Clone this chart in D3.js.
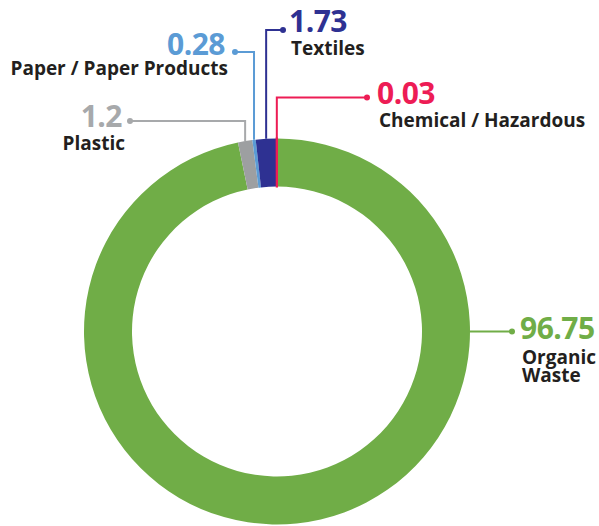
<!DOCTYPE html>
<html>
<head>
<meta charset="utf-8">
<script src="https://cdn.jsdelivr.net/npm/d3@7"></script>
<style>
  html, body { margin: 0; padding: 0; background: #fff; }
  svg { display: block; font-family: "Open Sans", "Noto Sans", sans-serif; }
</style>
</head>
<body>
<svg id="chart" width="599" height="526"></svg>
<script>
// Waste composition (%)
const categories = ["Organic Waste", "Plastic", "Paper / Paper Products", "Textiles", "Chemical / Hazardous"];
const values = [96.75, 1.2, 0.28, 1.73, 0.03];
const valueLabels = ["96.75", "1.2", "0.28", "1.73", "0.03"];
const colors = ["#70ad47", "#9d9fa1", "#5b9bd5", "#2e3192", "#ed1c55"];
const valueColors = ["#70ad47", "#a7a9ab", "#5b9bd5", "#2e3192", "#ed1c55"];

// Callout layout: anchor angle on the ring (null = slice middle), elbow height,
// dot position and text placement
const callouts = [
  { anchorAngle: Math.PI / 2, elbowY: null, dotX: 512, side: "right", vx: 520, vy: 339, ly: [364, 382] },
  { anchorAngle: null, elbowY: 121, dotX: 130, side: "left", vx: 122, vy: 127, ly: [150] },
  { anchorAngle: null, elbowY: 52, dotX: 235, side: "left", vx: 225, vy: 55, ly: [75] },
  { anchorAngle: null, elbowY: 30, dotX: 283, side: "right", vx: 289, vy: 32, ly: [55] },
  { anchorAngle: null, elbowY: 97.5, dotX: 367, side: "right", vx: 377, vy: 104, ly: [126.5] }
];
const labelLines = [["Organic", "Waste"], ["Plastic"], ["Paper / Paper Products"], ["Textiles"], ["Chemical / Hazardous"]];

const svg = d3.select("#chart");
const cx = 277, cy = 331.5, outerR = 193, innerR = 145;

const pie = d3.pie().sort(null).value(d => d);
const arcs = pie(values);
const arc = d3.arc().innerRadius(innerR).outerRadius(outerR);

const g = svg.append("g").attr("transform", `translate(${cx},${cy})`);

g.selectAll("path.slice")
  .data(arcs)
  .join("path")
  .attr("class", "slice")
  .attr("d", arc)
  .attr("fill", (d, i) => colors[i])
  // the tiniest slice gets an outline so it stays visible
  .attr("stroke", (d, i) => values[i] < 0.1 ? colors[i] : "none")
  .attr("stroke-width", 2);

// Leader lines, dots and labels
arcs.forEach((d, i) => {
  const c = callouts[i];
  const a = c.anchorAngle != null ? c.anchorAngle : (d.startAngle + d.endAngle) / 2;
  const x0 = cx + outerR * Math.sin(a);
  const y0 = cy - outerR * Math.cos(a);
  const pts = c.elbowY == null
    ? [[x0, y0], [c.dotX, y0]]
    : [[x0, y0], [x0, c.elbowY], [c.dotX, c.elbowY]];
  const endY = pts[pts.length - 1][1];

  svg.append("path")
    .attr("d", d3.line()(pts))
    .attr("fill", "none")
    .attr("stroke", valueColors[i])
    .attr("stroke-width", 2);

  svg.append("circle")
    .attr("cx", c.dotX)
    .attr("cy", endY)
    .attr("r", 3)
    .attr("fill", valueColors[i]);

  // value and category name form one callout text block
  const anchor = c.side === "right" ? "start" : "end";
  const t = svg.append("text")
    .attr("class", "callout")
    .attr("text-anchor", anchor)
    .attr("font-weight", 700);

  t.append("tspan")
    .attr("x", c.vx)
    .attr("y", c.vy)
    .attr("font-size", 30)
    .attr("letter-spacing", -0.5)
    .attr("fill", valueColors[i])
    .text(valueLabels[i]);

  labelLines[i].forEach((line, k) => {
    t.append("tspan")
      .attr("x", c.side === "right" ? c.vx + 2 : c.vx + 3)
      .attr("y", c.ly[k])
      .attr("font-size", 19)
      .attr("fill", "#231f20")
      .text(line);
  });
});
</script>
</body>
</html>
